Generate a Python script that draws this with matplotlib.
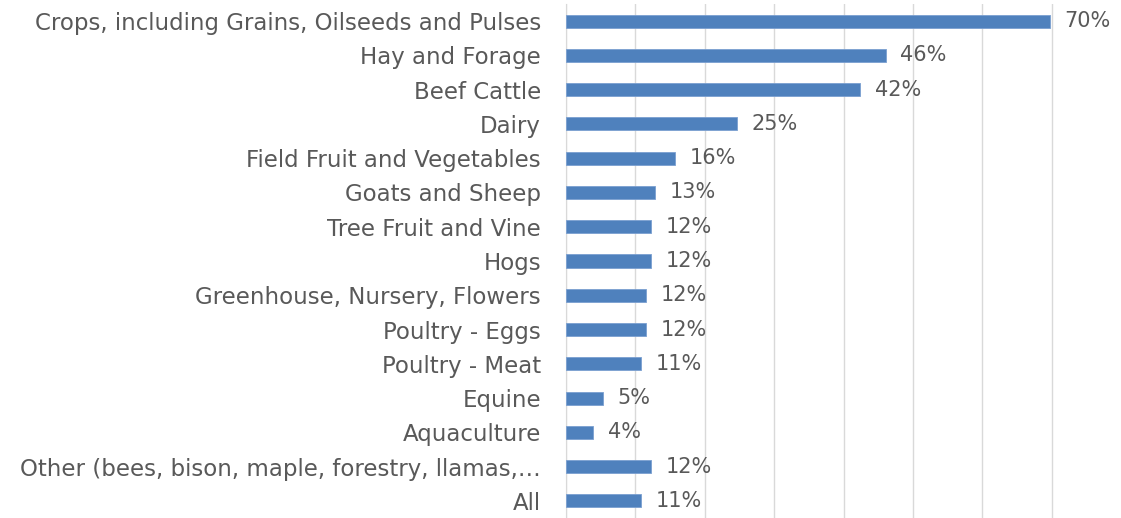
import matplotlib.pyplot as plt
import numpy as np

# share of farms by sector
categories = [
    "Crops, including Grains, Oilseeds and Pulses",
    "Hay and Forage",
    "Beef Cattle",
    "Dairy",
    "Field Fruit and Vegetables",
    "Goats and Sheep",
    "Tree Fruit and Vine",
    "Hogs",
    "Greenhouse, Nursery, Flowers",
    "Poultry - Eggs",
    "Poultry - Meat",
    "Equine",
    "Aquaculture",
    "Other (bees, bison, maple, forestry, llamas,\u2026",
    "All",
]
shares = [0.697, 0.461, 0.424, 0.246, 0.157, 0.129, 0.122, 0.122,
          0.115, 0.115, 0.108, 0.053, 0.039, 0.122, 0.108]

bar_color = "#4f81bd"
text_color = "#595959"
grid_color = "#d9d9d9"

plt.rcParams['font.family'] = ['DejaVu Sans']

fig = plt.figure(figsize=(11.21, 5.18), dpi=100)
ax = fig.add_axes([566 / 1121, 0.0, 1 - 566 / 1121, 1 - 4 / 518])

y = np.arange(len(categories))
ax.barh(y, shares, height=0.38, color=bar_color, edgecolor="#7a9fd0", linewidth=0.6, zorder=3)

for yi, v in zip(y, shares):
    ax.text(v + 0.021, yi, f"{v:.0%}", va="center", ha="left",
            fontsize=15, color=text_color)

ax.set_xlim(0, 0.8)
ax.set_ylim(len(categories) - 0.5, -0.5)
ax.set_xticks(np.arange(0, 0.71, 0.1))
ax.tick_params(axis="x", bottom=False, labelbottom=False)
ax.set_yticks(y)
ax.set_yticklabels(categories, fontsize=16.5, color=text_color)
ax.tick_params(axis="y", length=0, pad=18)
ax.grid(axis="x", color=grid_color, linewidth=1, zorder=0)
for side in ["top", "right", "bottom"]:
    ax.spines[side].set_visible(False)
ax.spines["left"].set_color(grid_color)

fig.savefig("out.png", dpi=100)
